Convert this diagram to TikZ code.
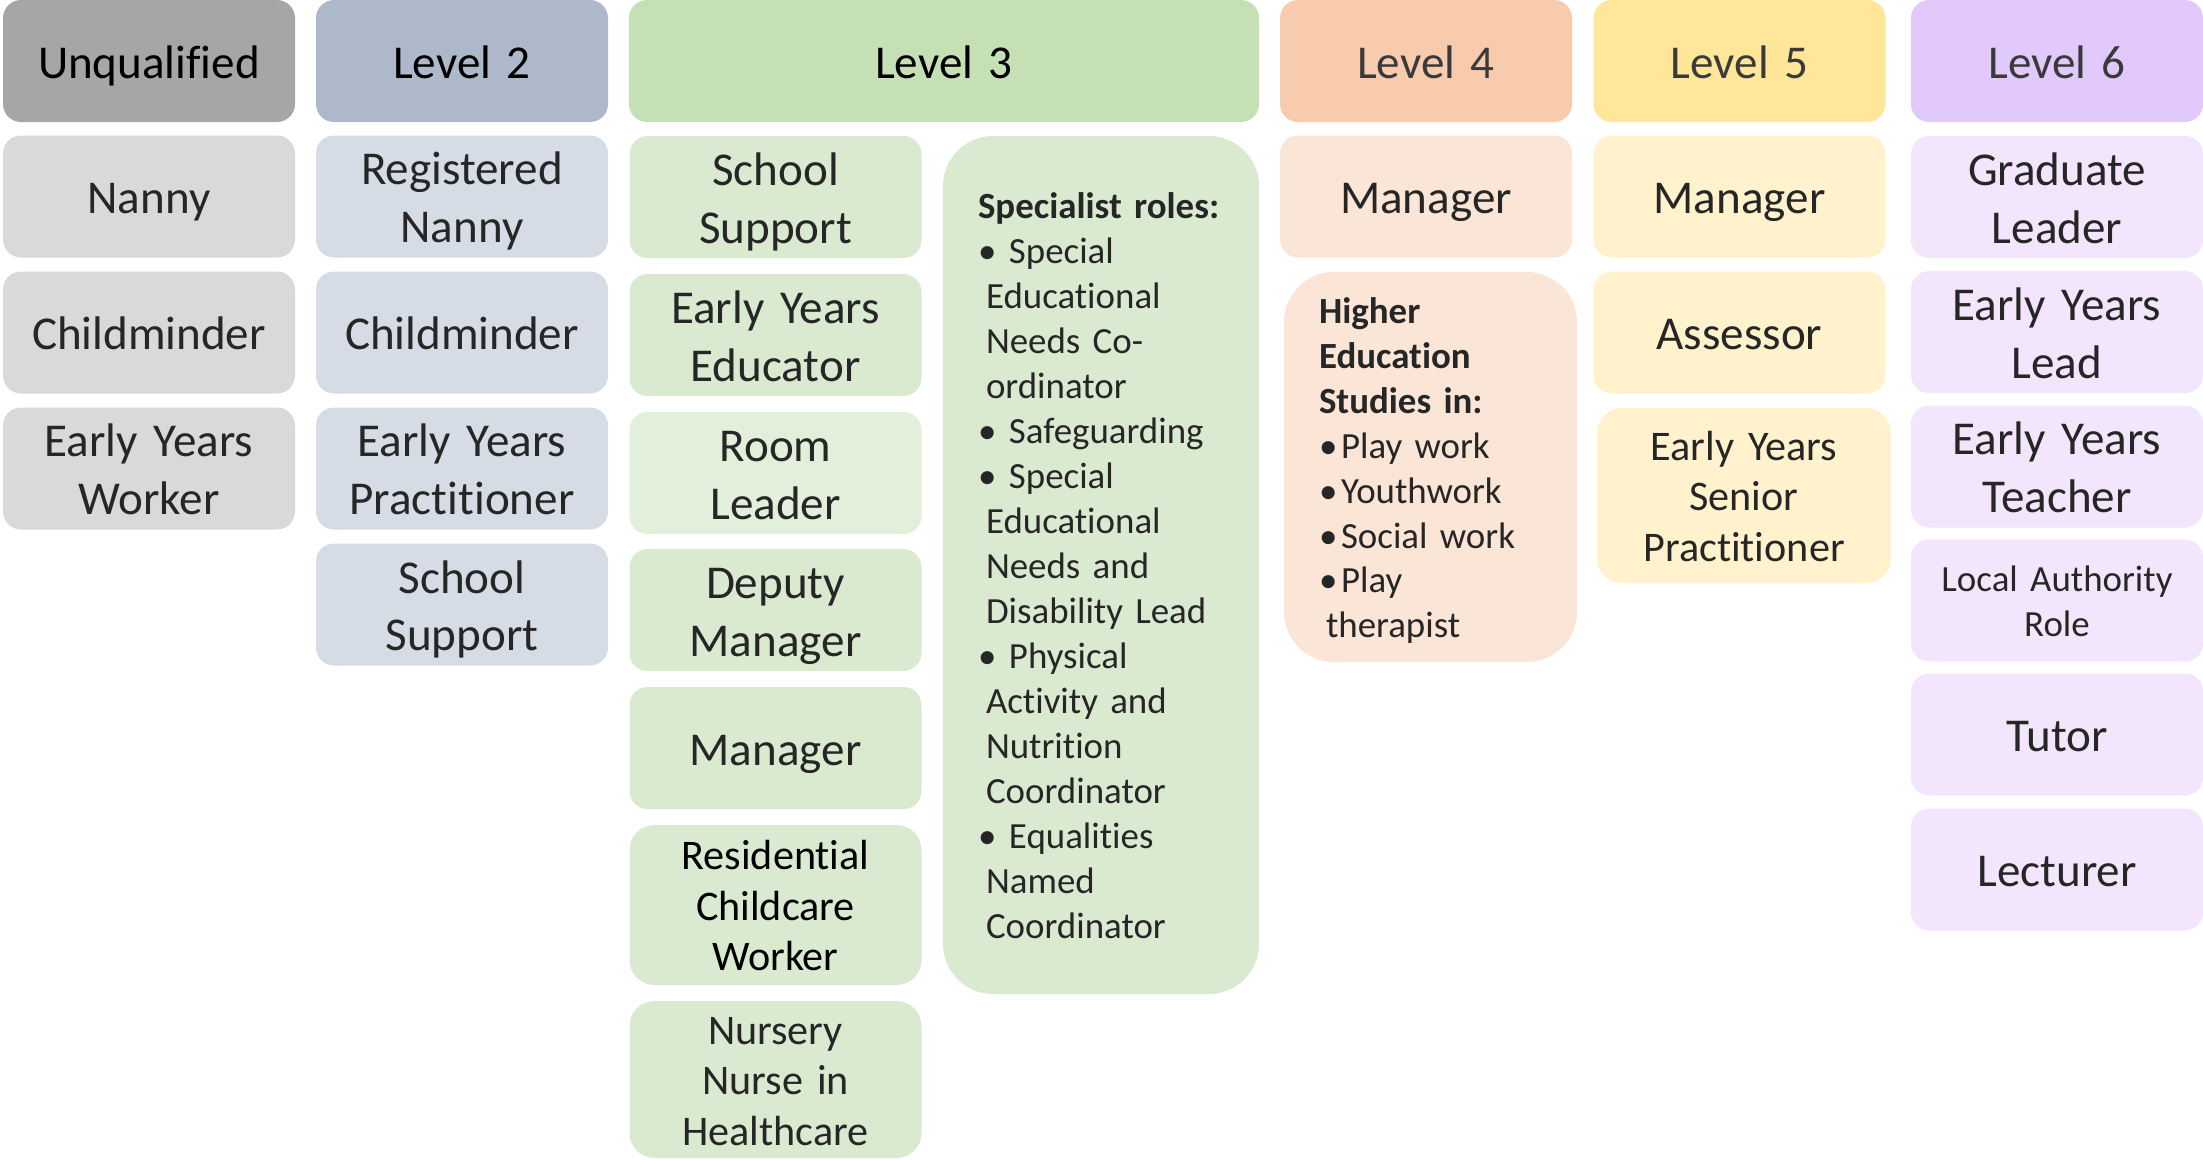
\documentclass[tikz,border=0pt]{standalone}
\usepackage{fontspec}
\setmainfont{Carlito}[Ligatures=CommonOff]
\usepackage{tikz}

\definecolor{grayhead}{HTML}{A6A6A6}
\definecolor{graycell}{HTML}{D9D9D9}
\definecolor{bluehead}{HTML}{ADB9CA}
\definecolor{bluecell}{HTML}{D6DCE5}
\definecolor{greenhead}{HTML}{C5E0B4}
\definecolor{greencell}{HTML}{DAEAD0}
\definecolor{greenpale}{HTML}{E2EFDA}
\definecolor{orangehead}{HTML}{F8CBAD}
\definecolor{orangecell}{HTML}{FBE5D6}
\definecolor{yellowhead}{HTML}{FFE699}
\definecolor{yellowcell}{HTML}{FFF2CC}
\definecolor{purplehead}{HTML}{E1CAFB}
\definecolor{purplecell}{HTML}{F3E5FC}
\definecolor{ink}{HTML}{262626}
\definecolor{inklight}{HTML}{3A3A3A}

% bullet with its own hanging gap, and the indent of wrapped lines
\newcommand{\bul}[1][0.31cm]{\makebox[#1][l]{\textbullet}}
\newcommand{\indnt}[1][0.08cm]{\hspace*{#1}}
% line strut, so every box centres its lines the same way
\newcommand{\vstrut}{\rule[-0.2\baselineskip]{0pt}{\baselineskip}}

\begin{document}
\begin{tikzpicture}[
		box/.style={rectangle,rounded corners=0.18cm,minimum width=2.92cm,minimum height=1.22cm,
			inner sep=0pt,text width=2.9cm,align=center,text=ink,font=\fontsize{13.4}{16.4}\selectfont,
			execute at begin node=\vstrut,execute at end node=\vstrut},
		head/.style={box,text=black},
		small/.style={font=\fontsize{10.5}{12.8}\selectfont},
		mid/.style={font=\fontsize{12}{14.4}\selectfont},
		listbox/.style={box,rounded corners=0.5cm,align=left,inner xsep=0.35cm,small}]
		
		\useasboundingbox (0,0) rectangle (22.03,-11.59);
		
		% column headings
		\node(10) at (1.49,-0.61)[head,fill=grayhead]{Unqualified};
		\node(20) at (4.62,-0.61)[head,fill=bluehead]{Level 2};
		\node(30) at (9.44,-0.61)[head,fill=greenhead,minimum width=6.30cm]{Level 3};
		\node(40) at (14.26,-0.61)[head,fill=orangehead,text=inklight]{Level 4};
		\node(50) at (17.395,-0.61)[head,fill=yellowhead,text=inklight]{Level 5};
		\node(60) at (20.57,-0.61)[head,fill=purplehead,text=inklight]{Level 6};
		
		% unqualified
		\node(11) at (1.49,-1.965)[box,fill=graycell]{Nanny};
		\node(12) at (1.49,-3.325)[box,fill=graycell]{Childminder};
		\node(13) at (1.49,-4.685)[box,fill=graycell]{Early Years\\Worker};
		
		% level 2
		\node(21) at (4.62,-1.965)[box,fill=bluecell]{Registered\\Nanny};
		\node(22) at (4.62,-3.325)[box,fill=bluecell]{Childminder};
		\node(23) at (4.62,-4.685)[box,fill=bluecell]{Early Years\\Practitioner};
		\node(24) at (4.62,-6.045)[box,fill=bluecell]{School\\Support};
		
		% level 3
		\node(31) at (7.755,-1.97)[box,fill=greencell]{School\\Support};
		\node(32) at (7.755,-3.35)[box,fill=greencell]{Early Years\\Educator};
		\node(33) at (7.755,-4.73)[box,fill=greenpale]{Room\\Leader};
		\node(34) at (7.755,-6.10)[box,fill=greencell]{Deputy\\Manager};
		\node(35) at (7.755,-7.48)[box,fill=greencell]{Manager};
		\node(36) at (7.755,-9.05)[box,fill=greencell,mid,text=black,minimum height=1.60cm,rounded corners=0.25cm]{Residential\\Childcare\\Worker};
		\node(37) at (7.755,-10.795)[box,fill=greencell,mid,minimum height=1.57cm,rounded corners=0.25cm]{Nursery\\Nurse in\\Healthcare};
		\node(38) at (11.01,-5.65)[listbox,fill=greencell,text width=2.46cm,minimum height=8.58cm]{%
			\textbf{Specialist roles:}\\
			\bul Special\\
			\indnt Educational\\
			\indnt Needs Co-\\
			\indnt ordinator\\
			\bul Safeguarding\\
			\bul Special\\
			\indnt Educational\\
			\indnt Needs and\\
			\indnt Disability Lead\\
			\bul Physical\\
			\indnt Activity and\\
			\indnt Nutrition\\
			\indnt Coordinator\\
			\bul Equalities\\
			\indnt Named\\
			\indnt Coordinator};
		
		% level 4
		\node(41) at (14.26,-1.965)[box,fill=orangecell]{Manager};
		\node(42) at (14.305,-4.67)[listbox,fill=orangecell,text width=2.23cm,minimum height=3.90cm]{%
			\textbf{Higher}\\
			\textbf{Education}\\
			\textbf{Studies in:}\\
			\bul[0.22cm]Play work\\
			\bul[0.22cm]Youthwork\\
			\bul[0.22cm]Social work\\
			\bul[0.22cm]Play\\
			\indnt[0.07cm]therapist};
		
		% level 5
		\node(51) at (17.395,-1.965)[box,fill=yellowcell]{Manager};
		\node(52) at (17.395,-3.325)[box,fill=yellowcell]{Assessor};
		\node(53) at (17.44,-4.955)[box,fill=yellowcell,mid,minimum width=2.94cm,minimum height=1.75cm,rounded corners=0.25cm]{Early Years\\Senior\\Practitioner};
		
		% level 6
		\node(61) at (20.57,-1.97)[box,fill=purplecell]{Graduate\\Leader};
		\node(62) at (20.57,-3.32)[box,fill=purplecell]{Early Years\\Lead};
		\node(63) at (20.57,-4.665)[box,fill=purplecell]{Early Years\\Teacher};
		\node(64) at (20.57,-6.005)[box,fill=purplecell,small]{Local Authority\\Role};
		\node(65) at (20.57,-7.345)[box,fill=purplecell]{Tutor};
		\node(66) at (20.57,-8.695)[box,fill=purplecell]{Lecturer};
		
	\end{tikzpicture}
\end{document}
